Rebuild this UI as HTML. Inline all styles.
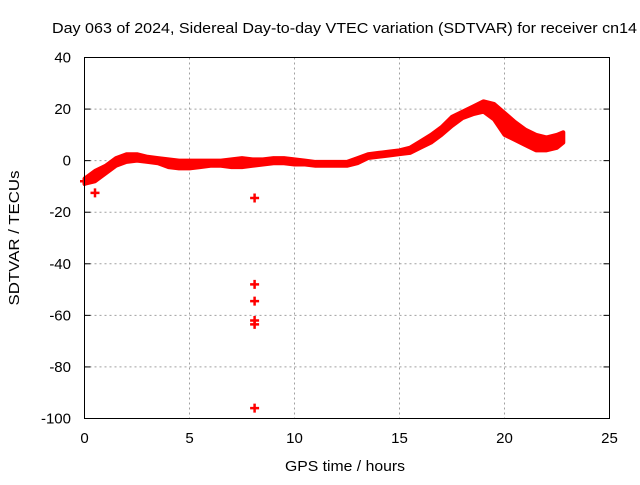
<!DOCTYPE html>
<html><head><meta charset="utf-8"><style>
body{margin:0;background:#fff}
svg text{font-family:"Liberation Sans",sans-serif;font-size:14px;fill:#000}
</style></head><body>
<svg id="chart" width="640" height="480" viewBox="0 0 640 480" xmlns="http://www.w3.org/2000/svg">
<text x="52" y="33" textLength="585" lengthAdjust="spacingAndGlyphs" style="font-size:15px">Day 063 of 2024, Sidereal Day-to-day VTEC variation (SDTVAR) for receiver cn14</text>
<text transform="translate(19,238) rotate(-90)" text-anchor="middle" textLength="135" lengthAdjust="spacingAndGlyphs" style="font-size:15px">SDTVAR / TECUs</text>
<text x="285" y="471" textLength="120" lengthAdjust="spacingAndGlyphs" style="font-size:15px">GPS time / hours</text>
<g id="grid"></g><g id="ticks"></g><g id="data"></g>
<rect x="84.5" y="57.5" width="525" height="361" fill="none" stroke="#000" stroke-width="1"/>
</svg>
<script>
const xTicks=[0,5,10,15,20,25];
const yTicks=[40,20,0,-20,-40,-60,-80,-100];
const hours=[0,0.5,1,1.5,2,2.5,3,3.5,4,4.5,5,5.5,6,6.5,7,7.5,8,8.5,9,9.5,10,10.5,11,11.5,12,12.5,13,13.5,14,14.5,15,15.5,16,16.5,17,17.5,18,18.5,19,19.5,20,20.5,21,21.5,22,22.5,22.8];
const upper=[-7,-4,-2,1,2.5,2.5,1.5,1,0.5,0,0,0,0,0,0.5,1,0.5,0.5,1,1,0.5,0,-0.5,-0.5,-0.5,-0.5,1,2.5,3,3.5,4,5,7.5,10,13,17,19,21,23,22,18.5,15,12,10,9,10,11];
const lower=[-9,-8,-5,-2,-0.5,0,-0.5,-1,-2.5,-3,-3,-2.5,-2,-2,-2.5,-2.5,-2,-1.5,-1,-1,-1.5,-1.5,-2,-2,-2,-2,-1,1,1.5,2,2.5,3,5,7,10,13.5,16.5,18,19,16,10,8,6,4,4,5,7];
const outX=[0,0.5,8.1,8.1,8.1,8.1,8.1,8.1];
const outY=[-8,-12.5,-14.5,-48,-54.5,-62,-63.5,-96];
const X0=84.5,X1=609.5,Y0=57.5,Y1=418.5;
const sx=v=>X0+(v-0)/25*(X1-X0);
const sy=v=>Y0+(40-v)/140*(Y1-Y0);
const NS="http://www.w3.org/2000/svg";
function mk(t,a,p){const e=document.createElementNS(NS,t);for(const k in a)e.setAttribute(k,a[k]);p.appendChild(e);return e;}
const grid=document.getElementById('grid'),ticks=document.getElementById('ticks'),data=document.getElementById('data');
xTicks.forEach(v=>{
 if(v>0&&v<25){const g=mk('line',{x1:sx(v),x2:sx(v),y1:Y0,y2:Y1,stroke:'#a0a0a0','stroke-dasharray':'2,3'},grid);
 
 }
 const t=mk('text',{x:sx(v),y:443,'text-anchor':'middle',style:'font-size:15px'},ticks);t.textContent=v;
 
 
});
yTicks.forEach(v=>{
 if(v<40&&v>-100){const g=mk('line',{x1:X0,x2:X1,y1:sy(v),y2:sy(v),stroke:'#a0a0a0','stroke-dasharray':'2,3'},grid);
 
 }
 mk('line',{x1:X0,x2:X0+6,y1:sy(v),y2:sy(v),stroke:'#000'},ticks);
 mk('line',{x1:X1-6,x2:X1,y1:sy(v),y2:sy(v),stroke:'#000'},ticks);
 const t=mk('text',{x:71,y:sy(v)+5,'text-anchor':'end',style:'font-size:15px'},ticks);t.textContent=v;
 
 
});
let pts=hours.map((h,i)=>sx(h)+','+sy(upper[i]));
for(let i=hours.length-1;i>=0;i--)pts.push(sx(hours[i])+','+sy(lower[i]));
const band=mk('polygon',{points:pts.join(' '),fill:'#ff0000',stroke:'#ff0000','stroke-width':4,'stroke-linejoin':'round'},data);


outX.forEach((h,i)=>{
 const x=sx(h),y=sy(outY[i]);
 const p=mk('path',{d:`M${x-4.5},${y}H${x+4.5}M${x},${y-4.5}V${y+4.5}`,stroke:'#ff0000','stroke-width':2.5},data);
 
 
});
</script>
</body></html>
